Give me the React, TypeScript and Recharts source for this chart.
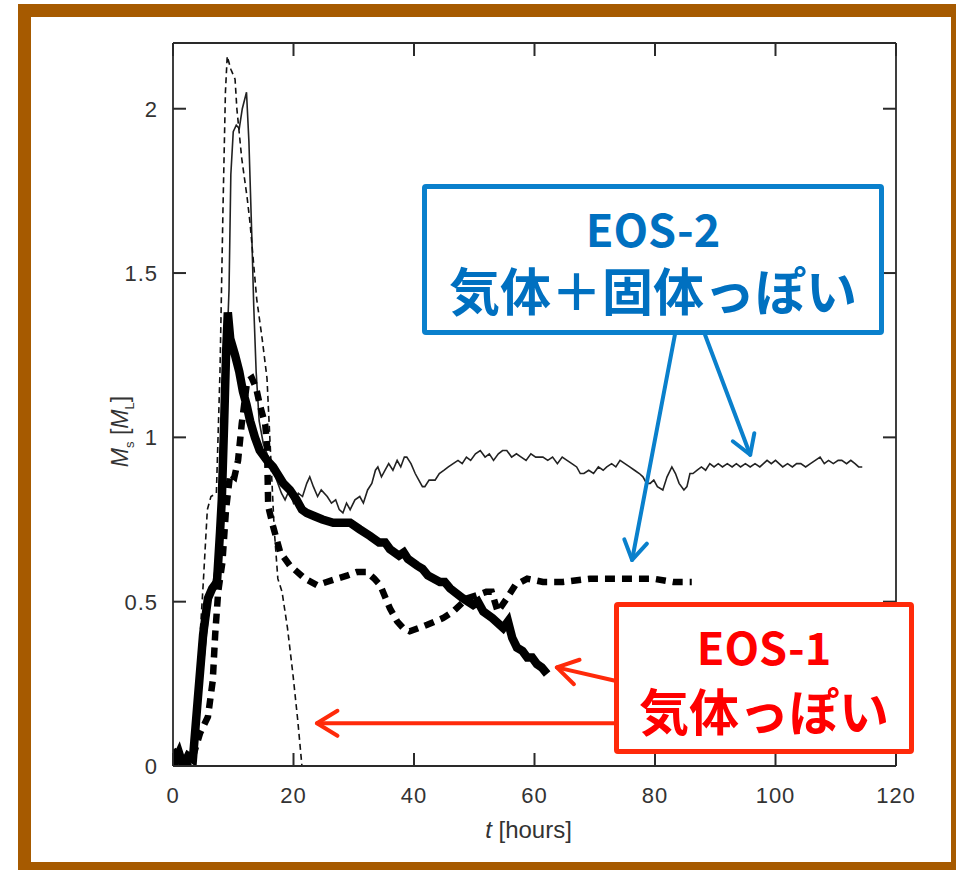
import React from 'react';
import { LineChart, Line, XAxis, YAxis, ReferenceLine } from 'recharts';

// Thin solid curve
const thinSolidT = [
  0, 1, 2, 3, 4, 5, 6, 7, 8, 8.8, 9.3, 9.6, 10, 10.5, 11, 11.5, 12.2, 12.6, 13.1, 13.4, 13.8, 14.3, 15, 16, 17, 18,
  18.6, 19.3, 20, 20.8, 21.5, 22.2, 22.7, 23.3, 24, 24.6, 25.6, 26.3, 27, 27.6, 28.2, 28.8, 29.4, 30.2, 31, 31.6,
  32.3, 33, 33.6, 34, 34.6, 35.2, 35.8, 36.5, 37.2, 37.8, 38.4, 38.8, 39.5, 40.2, 40.8, 41.4, 41.8, 42.5, 43.5,
  44.2, 45, 45.7, 46.5, 47.3, 48, 48.7, 49.4, 50.2, 51, 51.8, 52.5, 53.2, 54, 54.7, 55.4, 56.2, 57, 57.8, 58.6,
  59.4, 60.2, 61.4, 62.2, 63, 63.8, 64.6, 65.4, 66.2, 67, 67.6, 68.2, 69, 69.8, 70.6, 71.4, 72, 72.8, 73.5, 74.2,
  75, 75.8, 76.6, 77.4, 78, 78.6, 79.2, 79.8, 80.4, 81.3, 82, 82.8, 83.4, 84, 84.8, 85.3, 85.8, 86.3, 87, 87.7,
  88.4, 89.1, 89.8, 90.5, 91.2, 92, 92.8, 93.5, 94.2, 95, 95.8, 96.6, 97.4, 98, 98.6, 99.3, 100, 100.6, 101.2,
  102, 102.8, 103.5, 104.2, 105, 105.8, 106.6, 107.4, 108.1, 108.8, 109.6, 110.4, 111, 111.8, 112.5, 113.2,
  113.8, 114.4,
];
const thinSolidM = [
  0.03, 0.05, 0.02, 0.03, 0.1, 0.3, 0.48, 0.6, 0.85, 1.2, 1.45, 1.8, 1.93, 1.95, 1.94, 2.0, 2.05, 1.9, 1.6, 1.4,
  1.2, 1.05, 0.98, 0.93, 0.88, 0.83, 0.81, 0.84, 0.8, 0.83, 0.82, 0.86, 0.88, 0.85, 0.82, 0.84, 0.82, 0.8, 0.81,
  0.78, 0.77, 0.8, 0.78, 0.81, 0.82, 0.8, 0.84, 0.86, 0.9, 0.91, 0.88, 0.9, 0.92, 0.9, 0.93, 0.91, 0.94, 0.94,
  0.92, 0.89, 0.87, 0.85, 0.85, 0.87, 0.87, 0.89, 0.9, 0.91, 0.92, 0.93, 0.92, 0.94, 0.93, 0.95, 0.96, 0.94,
  0.95, 0.93, 0.95, 0.96, 0.96, 0.94, 0.95, 0.94, 0.93, 0.95, 0.94, 0.94, 0.93, 0.94, 0.92, 0.94, 0.93, 0.92,
  0.91, 0.89, 0.89, 0.9, 0.89, 0.91, 0.9, 0.91, 0.92, 0.91, 0.93, 0.92, 0.91, 0.9, 0.89, 0.88, 0.86, 0.86,
  0.87, 0.85, 0.84, 0.88, 0.91, 0.89, 0.86, 0.84, 0.85, 0.89, 0.89, 0.9, 0.91, 0.9, 0.92, 0.91, 0.92, 0.91,
  0.92, 0.91, 0.92, 0.91, 0.92, 0.91, 0.92, 0.91, 0.92, 0.93, 0.92, 0.93, 0.92, 0.91, 0.92, 0.91, 0.92, 0.92,
  0.91, 0.92, 0.93, 0.94, 0.92, 0.93, 0.92, 0.93, 0.93, 0.92, 0.93, 0.92, 0.91, 0.91,
];

// Thin dashed curve
const thinDashT = [
  0, 1, 2, 3, 4, 5, 5.7, 6.3, 7.2, 7.8, 8.3, 8.7, 9, 9.6, 10.3, 10.6, 11.4, 12.3, 12.8, 13.9, 14.8, 15.6, 16.2,
  16.8, 17.4, 18.1, 19, 19.9, 20.7, 21.4,
];
const thinDashM = [
  0.02, 0, 0.02, 0.05, 0.25, 0.55, 0.78, 0.82, 0.83, 1.2, 1.7, 2.05, 2.16, 2.12, 2.09, 2.0, 1.85, 1.73, 1.65,
  1.42, 1.3, 1.18, 0.95, 0.72, 0.57, 0.53, 0.42, 0.28, 0.14, 0,
];

// Thick solid curve
const thickSolidT = [
  0, 0.5, 1, 1.7, 2.5, 3.3, 4.1, 5, 5.8, 6.5, 7.3, 7.8, 8.1, 8.5, 8.8, 9.1, 9.5, 10.3, 11, 11.6, 12.2, 12.8, 13.6,
  14.4, 15.6, 16.6, 18.3, 19.4, 20.5, 21.4, 22.2, 23.5, 24.8, 26.6, 28, 29.4, 31, 32.7, 34.2, 35.2, 36, 37.5, 38.3,
  39, 40.5, 41.4, 42.3, 44.3, 45.1, 46, 48.1, 49.8, 50.6, 51.5, 53, 54.8, 55.6, 56.3, 57.1, 58, 58.8, 59.6, 60.4,
  61.2, 62.1,
];
const thickSolidM = [
  0.05, 0.02, 0.04, 0, 0.03, 0.02, 0.2, 0.4, 0.51, 0.54, 0.56, 0.71, 0.81, 1.05, 1.25, 1.38, 1.3, 1.25, 1.2, 1.14,
  1.1, 1.05, 1.0, 0.96, 0.93, 0.91, 0.86, 0.84, 0.81, 0.78, 0.77, 0.76, 0.75, 0.74, 0.74, 0.74, 0.72, 0.7, 0.68,
  0.68, 0.66, 0.64, 0.65, 0.63, 0.61, 0.6, 0.58, 0.56, 0.56, 0.54, 0.51, 0.49, 0.5, 0.47, 0.45, 0.42, 0.44, 0.39,
  0.36, 0.35, 0.33, 0.33, 0.31, 0.3, 0.28,
];

// Thick dashed curve
const thickDashT = [
  0, 1, 2, 3, 4.5, 5.8, 6.6, 7, 7.5, 8.2, 8.8, 9.5, 10.2, 10.8, 11.4, 12.3, 13.1, 13.8, 14.4, 15.3, 15.6, 15.8,
  16.6, 17.8, 19.4, 21.9, 23.9, 25.5, 27.2, 29, 30.5, 32.2, 33.4, 34.4, 35.3, 36, 37.2, 38.2, 39.3, 40.8, 42.2,
  43.5, 44.8, 46.5, 48.8, 50.5, 52, 52.9, 53.9, 55.4, 56.8, 58.8, 61.4, 64.7, 69.2, 72, 76.3, 79.7, 83, 86.1,
];
const thickDashM = [
  0.05, 0.02, 0, 0.01, 0.1, 0.15, 0.26, 0.4, 0.53, 0.62, 0.78, 0.89, 0.88, 0.93, 1.04, 1.17, 1.18, 1.15, 1.1,
  1.04, 0.98, 0.79, 0.73, 0.65, 0.61, 0.57, 0.55, 0.56, 0.57, 0.58, 0.59, 0.59, 0.57, 0.55, 0.51, 0.48, 0.44,
  0.42, 0.41, 0.42, 0.43, 0.44, 0.45, 0.47, 0.51, 0.52, 0.53, 0.53, 0.47, 0.51, 0.55, 0.57, 0.56, 0.56, 0.57,
  0.57, 0.57, 0.57, 0.56, 0.56,
];

const xTicks = [0, 20, 40, 60, 80, 100, 120];
const yTicks = [0, 0.5, 1, 1.5, 2];

// arrow segments: [from, to] in (t, M)
const redArrows = [
  [[73.2, 0.13], [23.9, 0.13]],
  [[73.2, 0.26], [63.7, 0.3]],
];
const blueArrows = [
  [[83.3, 1.312], [76.2, 0.627]],
  [[88.3, 1.312], [95.8, 0.947]],
];

const toPoints = (ts: number[], ms: number[]) => ts.map((t, i) => ({ t, m: ms[i] }));

const X_MAX = 120;
const Y_MAX = 2.2;
const PLOT = 723; // plot area is square, 723px each way
const TICK_LEN = 13;
// tick length expressed in axis units, so the marks go through the library scales
const TICK_DX = (X_MAX * TICK_LEN) / PLOT;
const TICK_DY = (Y_MAX * TICK_LEN) / PLOT;

const AXIS = '#2a2a2a';
const TICK_FONT = '"Liberation Sans", Arial, sans-serif';
const JP_FONT = '"Noto Sans CJK JP", "Noto Sans", sans-serif';
const RED = '#ff2a0a';
const BLUE = '#0a80cc';

const axisLine = { stroke: AXIS, strokeWidth: 1.8 };

// inward tick marks on all four sides of the frame
const tickSegments = [
  ...xTicks.map((t) => [[t, 0], [t, TICK_DY]]),
  ...xTicks.map((t) => [[t, Y_MAX], [t, Y_MAX - TICK_DY]]),
  ...yTicks.map((v) => [[0, v], [TICK_DX, v]]),
  ...yTicks.map((v) => [[X_MAX, v], [X_MAX - TICK_DX, v]]),
];

function BottomTick({ x, y, payload }: any) {
  return (
    <text x={x} y={y + 37} textAnchor="middle" fontFamily={TICK_FONT} fontSize={22} fill="#333" letterSpacing={1}>
      {String(payload.value)}
    </text>
  );
}

function LeftTick({ x, y, payload }: any) {
  return (
    <text x={x} y={y + 8} textAnchor="end" fontFamily={TICK_FONT} fontSize={22} fill="#333" letterSpacing={1}>
      {String(payload.value)}
    </text>
  );
}

function XTitle({ viewBox }: any) {
  const cx = viewBox.x + viewBox.width / 2;
  return (
    <text x={cx - 6} y={viewBox.y + 72} textAnchor="middle" fontFamily={TICK_FONT} fontSize={24} fill="#333">
      <tspan fontStyle="italic">t</tspan>
      <tspan> [hours]</tspan>
    </text>
  );
}

function YTitle({ viewBox }: any) {
  const cx = viewBox.x + 15;
  const cy = viewBox.y + viewBox.height / 2 + 27;
  return (
    <text
      x={cx}
      y={cy}
      transform={`rotate(-90 ${cx} ${cy})`}
      textAnchor="middle"
      fontFamily={TICK_FONT}
      fontSize={23}
      fill="#333"
    >
      <tspan fontStyle="italic">M</tspan>
      <tspan fontSize={13} dy={6}>s</tspan>
      <tspan dy={-6}> [</tspan>
      <tspan fontStyle="italic">M</tspan>
      <tspan fontSize={13} dy={6}>L</tspan>
      <tspan dy={-6}>]</tspan>
    </text>
  );
}

function arrowShape(color: string, head: number) {
  return (props: any) => {
    const { x1, y1, x2, y2 } = props;
    const a = Math.atan2(y2 - y1, x2 - x1);
    const spread = 0.55;
    const hx1 = x2 - head * Math.cos(a - spread);
    const hy1 = y2 - head * Math.sin(a - spread);
    const hx2 = x2 - head * Math.cos(a + spread);
    const hy2 = y2 - head * Math.sin(a + spread);
    return (
      <g stroke={color} strokeWidth={4} strokeLinecap="round" strokeLinejoin="round" fill="none">
        <line x1={x1} y1={y1} x2={x2} y2={y2} />
        <polyline points={`${hx1},${hy1} ${x2},${y2} ${hx2},${hy2}`} />
      </g>
    );
  };
}

function tickShape(props: any) {
  const { x1, y1, x2, y2 } = props;
  return <line x1={x1} y1={y1} x2={x2} y2={y2} stroke={AXIS} strokeWidth={2} />;
}

const boxText: React.CSSProperties = {
  position: 'absolute',
  left: 0,
  right: 0,
  height: 50,
  lineHeight: '50px',
  textAlign: 'center',
  fontFamily: JP_FONT,
  fontWeight: 700,
  whiteSpace: 'nowrap',
};

export default function App() {
  return (
    <div style={{ position: 'absolute', left: 0, top: 0, width: 956, height: 870, overflow: 'hidden', background: '#fff' }}>
      <div
        style={{
          position: 'absolute',
          left: 18,
          top: 4,
          width: 946,
          height: 871,
          boxSizing: 'border-box',
          border: '13px solid #a65a00',
          background: '#fff',
        }}
      />
      <div style={{ position: 'absolute', left: 0, top: 0 }}>
        <LineChart width={956} height={870} margin={{ top: 42, right: 59, bottom: 64, left: 113 }}>
          <XAxis
            dataKey="t"
            type="number"
            domain={[0, X_MAX]}
            ticks={xTicks}
            height={40}
            tickSize={0}
            tickMargin={0}
            tickLine={false}
            tick={<BottomTick />}
            axisLine={axisLine}
            label={{ content: <XTitle /> }}
            allowDataOverflow
          />
          <XAxis
            xAxisId="top"
            orientation="top"
            dataKey="t"
            type="number"
            domain={[0, X_MAX]}
            ticks={xTicks}
            height={1}
            tickLine={false}
            tick={false}
            axisLine={axisLine}
          />
          <YAxis
            type="number"
            domain={[0, Y_MAX]}
            ticks={yTicks}
            width={60}
            tickSize={0}
            tickMargin={15}
            tickLine={false}
            tick={<LeftTick />}
            axisLine={axisLine}
            label={{ content: <YTitle /> }}
            allowDataOverflow
          />
          <YAxis
            yAxisId="right"
            orientation="right"
            type="number"
            domain={[0, Y_MAX]}
            ticks={yTicks}
            width={1}
            tickLine={false}
            tick={false}
            axisLine={axisLine}
          />
          <Line
            data={toPoints(thinSolidT, thinSolidM)}
            dataKey="m"
            type="linear"
            stroke="#222"
            strokeWidth={1.6}
            dot={false}
            isAnimationActive={false}
          />
          <Line
            data={toPoints(thinDashT, thinDashM)}
            dataKey="m"
            type="linear"
            stroke="#111"
            strokeWidth={1.6}
            strokeDasharray="6 4"
            dot={false}
            isAnimationActive={false}
          />
          <Line
            data={toPoints(thickDashT, thickDashM)}
            dataKey="m"
            type="linear"
            stroke="#000"
            strokeWidth={6.5}
            strokeDasharray="10 7"
            dot={false}
            isAnimationActive={false}
          />
          <Line
            data={toPoints(thickSolidT, thickSolidM)}
            dataKey="m"
            type="linear"
            stroke="#000"
            strokeWidth={8.5}
            dot={false}
            isAnimationActive={false}
          />
          {tickSegments.map(([from, to], i) => (
            <ReferenceLine
              key={`tk${i}`}
              segment={[{ x: from[0], y: from[1] }, { x: to[0], y: to[1] }]}
              ifOverflow="visible"
              shape={tickShape}
            />
          ))}
          {redArrows.map(([from, to], i) => (
            <ReferenceLine
              key={`r${i}`}
              segment={[{ x: from[0], y: from[1] }, { x: to[0], y: to[1] }]}
              ifOverflow="visible"
              shape={arrowShape(RED, 24)}
            />
          ))}
          {blueArrows.map(([from, to], i) => (
            <ReferenceLine
              key={`b${i}`}
              segment={[{ x: from[0], y: from[1] }, { x: to[0], y: to[1] }]}
              ifOverflow="visible"
              shape={arrowShape(BLUE, 22)}
            />
          ))}
        </LineChart>
      </div>
      <div
        style={{
          position: 'absolute',
          left: 422,
          top: 184,
          width: 462,
          height: 151,
          boxSizing: 'border-box',
          border: `5px solid ${BLUE}`,
          borderRadius: 4,
          background: '#fff',
        }}
      >
        <div style={{ ...boxText, top: 14, fontSize: 45, color: '#0070c0' }}>EOS-2</div>
        <div style={{ ...boxText, top: 75, fontSize: 51, color: '#0070c0' }}>気体＋固体っぽい</div>
      </div>
      <div
        style={{
          position: 'absolute',
          left: 614,
          top: 602,
          width: 300,
          height: 152,
          boxSizing: 'border-box',
          border: `5px solid ${RED}`,
          borderRadius: 4,
          background: '#fff',
        }}
      >
        <div style={{ ...boxText, top: 14, fontSize: 45, color: '#ff0000' }}>EOS-1</div>
        <div style={{ ...boxText, top: 77, fontSize: 50, color: '#ff0000' }}>気体っぽい</div>
      </div>
    </div>
  );
}
